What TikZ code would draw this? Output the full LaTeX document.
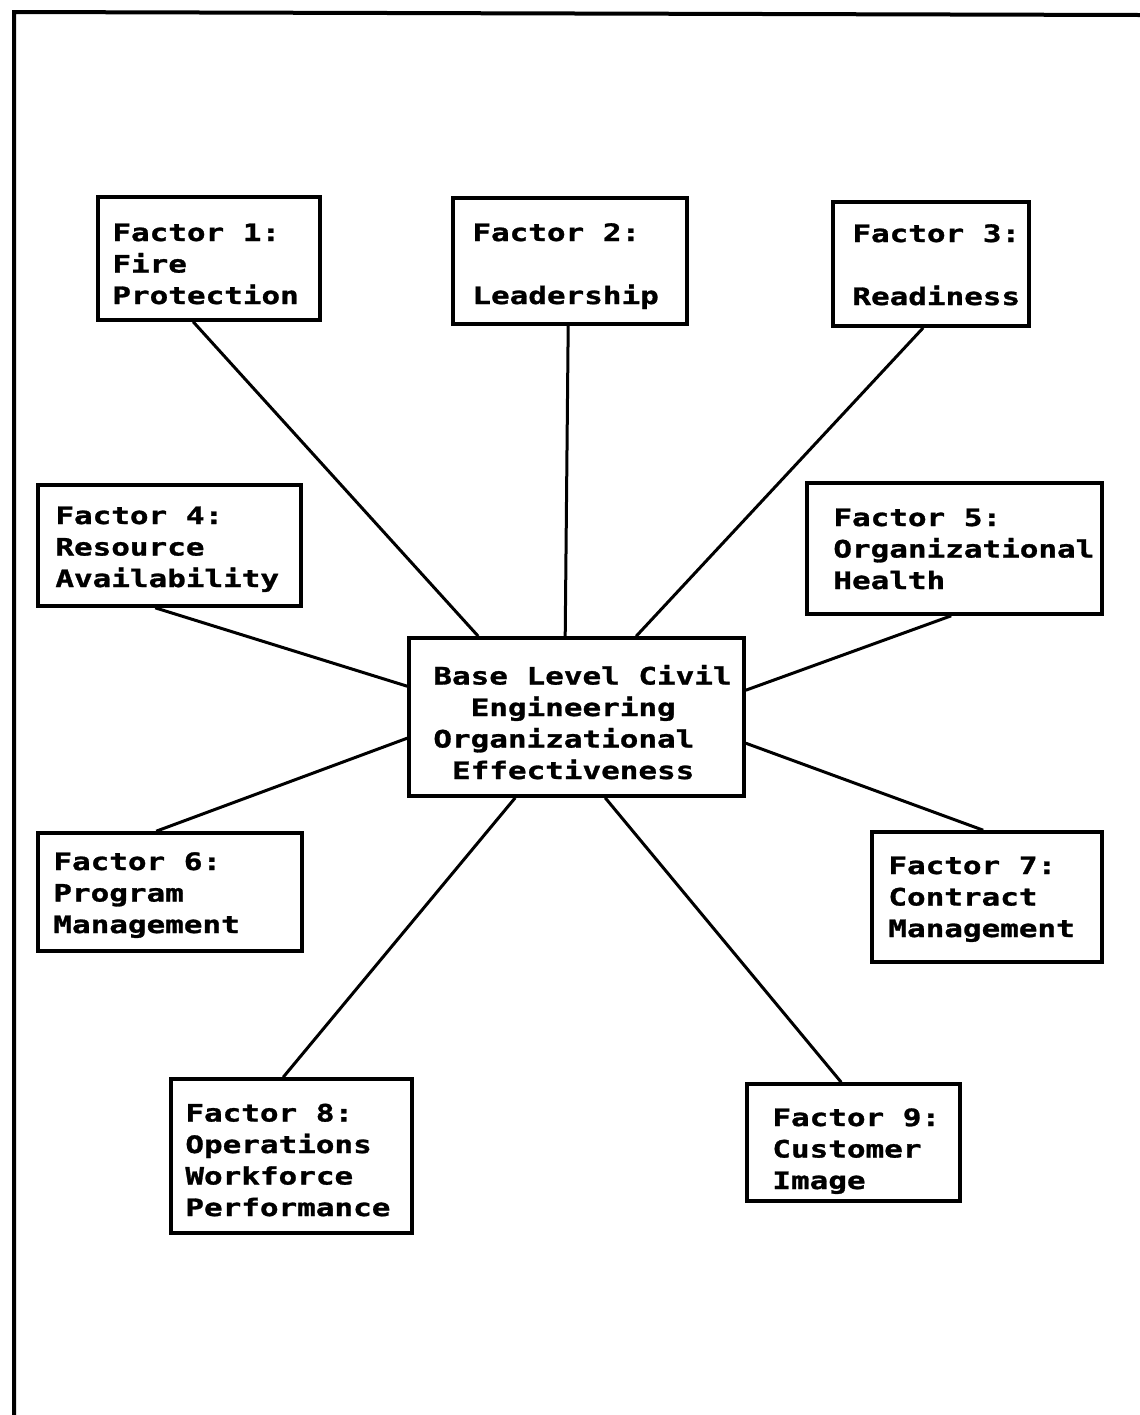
\documentclass[tikz,border=0pt]{standalone}
\usepackage{fontspec}
\newfontfamily\typer{DejaVu Sans Mono}[FakeStretch=1.29,FakeBold=1.2]
\usetikzlibrary{calc,fit}
\begin{document}
\begin{tikzpicture}[x=0.5pt,y=-0.5pt,
  box/.style={draw, line width=1.8pt, inner sep=0pt},
  label/.style={anchor=base west, inner sep=0pt, align=left,
    font=\typer\bfseries\fontsize{12pt}{15.75pt}\selectfont},
  link/.style={line width=1.5pt},
  frame/.style={line width=2pt, line cap=round}]
\useasboundingbox (0,0) rectangle (1140,1415);

% page frame: top and left rules only
\coordinate (fa) at (14,1415);
\coordinate (fb) at (14,12);
\coordinate (fc) at (1140,15);
\draw[frame] (fa) -- (fb) -- (fc);

% factor boxes
\node[box, fit={(98,197) (320,320)}] (b1) {};
\node[box, fit={(453,198) (687,324)}] (b2) {};
\node[box, fit={(833,202) (1029,326)}] (b3) {};
\node[box, fit={(38,485) (301,606)}] (b4) {};
\node[box, fit={(807,483) (1102,614)}] (b5) {};
\node[box, fit={(38,833) (302,951)}] (b6) {};
\node[box, fit={(872,832) (1102,962)}] (b7) {};
\node[box, fit={(171,1079) (412,1233)}] (b8) {};
\node[box, fit={(747,1084) (960,1201)}] (b9) {};
% central box
\node[box, fit={(409,638) (744,796)}] (c) {};

% box texts (placed by the baseline of their last line)
\node[label] (t1) at (112,304) {Factor 1:\\Fire\\Protection};
\node[label] (t2) at (472,304) {Factor 2:\\[15.75pt]Leadership};
\node[label] (t3) at (852,305) {Factor 3:\\[15.75pt]Readiness};
\node[label] (t4) at (55,587) {Factor 4:\\Resource\\Availability};
\node[label] (t5) at (833,589) {Factor 5:\\Organizational\\Health};
\node[label] (t6) at (53,933) {Factor 6:\\Program\\Management};
\node[label] (t7) at (888,937) {Factor 7:\\Contract\\Management};
\node[label] (t8) at (185,1216) {Factor 8:\\Operations\\Workforce\\Performance};
\node[label] (t9) at (772,1189) {Factor 9:\\Customer\\Image};
\node[label] (tc) at (433,779) {Base Level Civil\\\hphantom{OO}Engineering\\Organizational\\\hphantom{O}Effectiveness};

% connectors from each factor to the central box
\draw[link] ($(b1.south west)+(97,0)$) -- ($(c.north west)+(71,0)$);
\draw[link] ($(b2.south west)+(117,0)$) -- ($(c.north west)+(158,0)$);
\draw[link] ($(b3.south west)+(92,0)$) -- ($(c.north west)+(229,0)$);
\draw[link] ($(b4.south west)+(119,0)$) -- ($(c.north west)+(0,50)$);
\draw[link] ($(b5.south west)+(146,0)$) -- ($(c.north east)+(0,54)$);
\draw[link] ($(b6.north west)+(120,0)$) -- ($(c.north west)+(0,102)$);
\draw[link] ($(b7.north west)+(113,0)$) -- ($(c.north east)+(0,107)$);
\draw[link] ($(b8.north west)+(114,0)$) -- ($(c.south west)+(108,0)$);
\draw[link] ($(b9.north west)+(96,0)$) -- ($(c.south west)+(198,0)$);
\end{tikzpicture}
\end{document}
